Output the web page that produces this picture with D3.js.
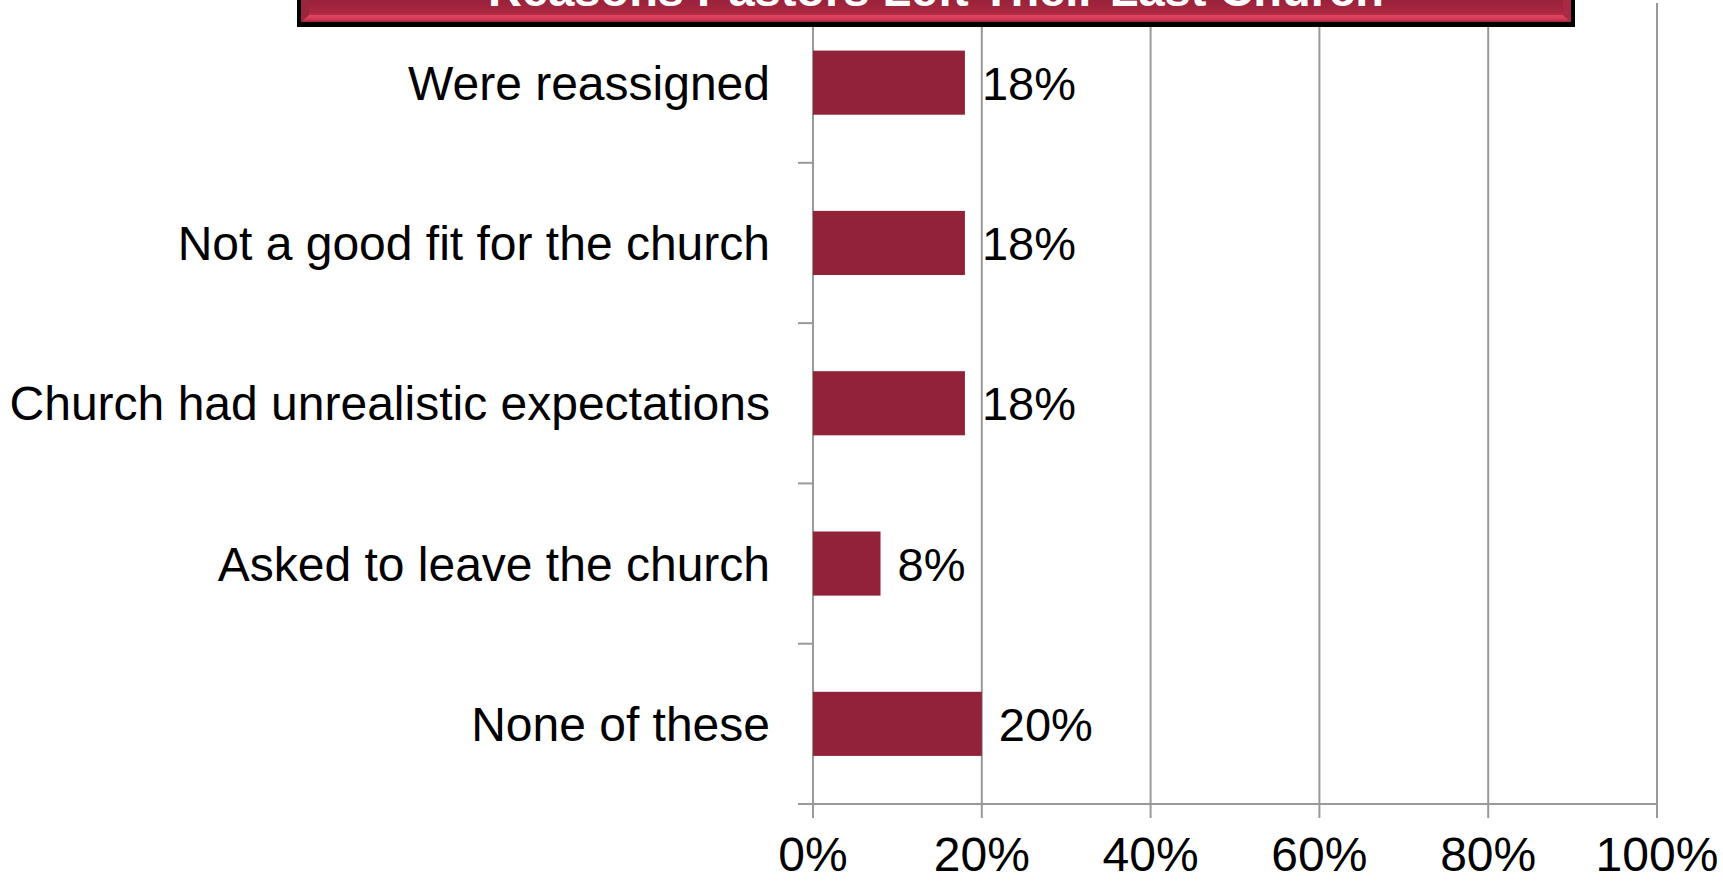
<!DOCTYPE html>
<html>
<head>
<meta charset="utf-8">
<script src="https://cdn.jsdelivr.net/npm/d3@7"></script>
<style>
  html, body { margin: 0; padding: 0; background: #fff; }
  svg { display: block; }
  text { font-family: "Liberation Sans", Arial, sans-serif; }
</style>
</head>
<body>
<svg id="chart" width="1723" height="881"></svg>
<script>
const title = "Reasons Pastors Left Their Last Church";
const categories = [
  "Were reassigned",
  "Not a good fit for the church",
  "Church had unrealistic expectations",
  "Asked to leave the church",
  "None of these"
];
const values = [0.18, 0.18, 0.18, 0.08, 0.20];
const valueLabels = ["18%", "18%", "18%", "8%", "20%"];
const xTicks = [0, 0.2, 0.4, 0.6, 0.8, 1.0];
const xTickLabels = ["0%", "20%", "40%", "60%", "80%", "100%"];

(function () {
const svg = d3.select("#chart");
const plotLeft = 813, plotRight = 1657, plotTop = 2.5, plotBottom = 804;

const x = d3.scaleLinear().domain([0, 1]).range([plotLeft, plotRight]);
const y = d3.scaleBand().domain(categories).range([plotTop, plotBottom])
  .paddingInner(0.6).paddingOuter(0.3);

const gridColor = "#999999";

// vertical gridlines + ticks below axis
svg.append("g").selectAll("line").data(xTicks).join("line")
  .attr("x1", d => x(d)).attr("x2", d => x(d))
  .attr("y1", 3).attr("y2", plotBottom + 14)
  .attr("stroke", gridColor).attr("stroke-width", 2);

// horizontal axis line
svg.append("line")
  .attr("x1", plotLeft - 15).attr("x2", plotRight)
  .attr("y1", plotBottom).attr("y2", plotBottom)
  .attr("stroke", gridColor).attr("stroke-width", 2);

// category tick marks at band boundaries
const step = y.step();
const boundaries = categories.slice(1).map(c => y(c) - y.paddingInner() * step / 2);
svg.append("g").selectAll("line").data(boundaries).join("line")
  .attr("x1", plotLeft - 15).attr("x2", plotLeft)
  .attr("y1", d => d).attr("y2", d => d)
  .attr("stroke", gridColor).attr("stroke-width", 2);

// x tick labels
svg.append("g").selectAll("text").data(xTicks).join("text")
  .attr("x", d => x(d)).attr("y", 871)
  .attr("text-anchor", "middle")
  .attr("font-size", 48)
  .attr("fill", "#000")
  .text((d, i) => xTickLabels[i]);

// bars
svg.append("g").selectAll("rect").data(categories).join("rect")
  .attr("x", x(0))
  .attr("y", d => y(d))
  .attr("width", (d, i) => x(values[i]) - x(0))
  .attr("height", y.bandwidth())
  .attr("fill", "#912239");

// value labels
svg.append("g").selectAll("text").data(categories).join("text")
  .attr("x", (d, i) => x(values[i]) + 17)
  .attr("y", d => y(d) + y.bandwidth() / 2 + 17)
  .attr("font-size", 47)
  .attr("fill", "#000")
  .text((d, i) => valueLabels[i]);

// category labels
svg.append("g").selectAll("text").data(categories).join("text")
  .attr("x", 770)
  .attr("y", d => y(d) + y.bandwidth() / 2 + 17)
  .attr("text-anchor", "end")
  .attr("font-size", 48)
  .attr("fill", "#000")
  .text(d => d);

// title box
const defs = svg.append("defs");
const g1 = defs.append("linearGradient").attr("id", "face").attr("x1", 0).attr("y1", 0).attr("x2", 0).attr("y2", 1);
g1.append("stop").attr("offset", "0%").attr("stop-color", "#7e1a30");
g1.append("stop").attr("offset", "70%").attr("stop-color", "#a5263f");
g1.append("stop").attr("offset", "100%").attr("stop-color", "#c93350");
const g2 = defs.append("linearGradient").attr("id", "bev").attr("x1", 0).attr("y1", 0).attr("x2", 0).attr("y2", 1);
g2.append("stop").attr("offset", "0%").attr("stop-color", "#e4445f");
g2.append("stop").attr("offset", "55%").attr("stop-color", "#d43a56");
g2.append("stop").attr("offset", "100%").attr("stop-color", "#9c2840");

const bx0 = 297, bx1 = 1575, by1 = 27;
svg.append("rect").attr("x", bx0).attr("y", -20).attr("width", bx1 - bx0).attr("height", by1 + 20).attr("fill", "#000");
const ix0 = bx0 + 4, ix1 = bx1 - 4, iy1 = by1 - 5, bw = 8;
svg.append("rect").attr("x", ix0).attr("y", -20).attr("width", ix1 - ix0).attr("height", iy1 + 20).attr("fill", "url(#face)");
svg.append("polygon")
  .attr("points", `${ix0},${iy1} ${ix1},${iy1} ${ix1 - bw},${iy1 - 7} ${ix0 + bw},${iy1 - 7}`)
  .attr("fill", "url(#bev)");
svg.append("polygon")
  .attr("points", `${ix0},-20 ${ix0 + bw},-20 ${ix0 + bw},${iy1 - 7} ${ix0},${iy1}`)
  .attr("fill", "#9a253d");
svg.append("polygon")
  .attr("points", `${ix1},-20 ${ix1 - bw},-20 ${ix1 - bw},${iy1 - 7} ${ix1},${iy1}`)
  .attr("fill", "#a82a44");

svg.append("text")
  .attr("x", (bx0 + bx1) / 2).attr("y", 6)
  .attr("text-anchor", "middle")
  .attr("font-size", 47).attr("font-weight", "bold")
  .attr("fill", "#fff")
  .text(title);
})();
</script>
</body>
</html>
